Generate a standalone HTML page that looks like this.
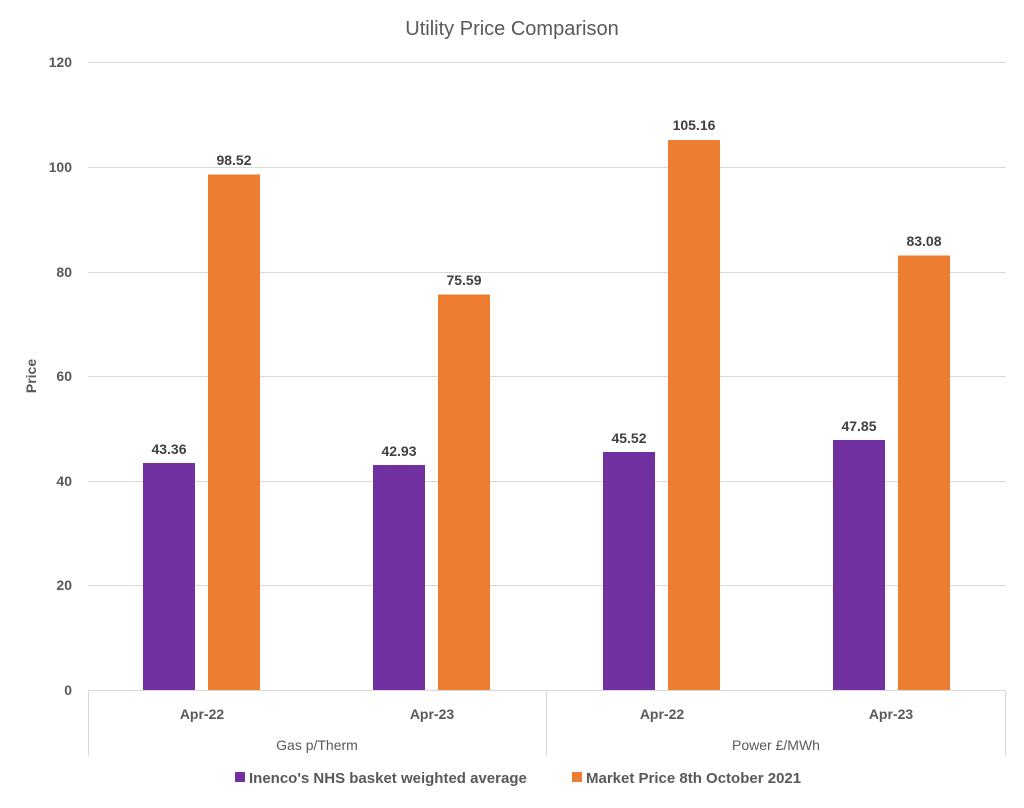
<!DOCTYPE html>
<html><head><meta charset="utf-8"><style>
body{margin:0;background:#fff;}
svg text{font-family:"Liberation Sans",Calibri,sans-serif;}
</style></head><body>
<svg width="1024" height="803" viewBox="0 0 1024 803" xmlns="http://www.w3.org/2000/svg">
<rect width="1024" height="803" fill="#fff"/>
<text x="512" y="35" text-anchor="middle" font-size="20" fill="#595959">Utility Price Comparison</text>
<g stroke="#d9d9d9" stroke-width="1">
<line x1="88" y1="62.5" x2="1006" y2="62.5"/>
<line x1="88" y1="167.5" x2="1006" y2="167.5"/>
<line x1="88" y1="272.5" x2="1006" y2="272.5"/>
<line x1="88" y1="376.5" x2="1006" y2="376.5"/>
<line x1="88" y1="481.5" x2="1006" y2="481.5"/>
<line x1="88" y1="585.5" x2="1006" y2="585.5"/>
<line x1="88" y1="690.5" x2="1006" y2="690.5"/>
<line x1="88.5" y1="690" x2="88.5" y2="756"/>
<line x1="546.5" y1="690" x2="546.5" y2="756"/>
<line x1="1005.5" y1="690" x2="1005.5" y2="756"/>
</g>
<g font-size="14" font-weight="bold" fill="#595959" text-anchor="end">
<text x="72" y="67">120</text><text x="72" y="172">100</text><text x="72" y="277">80</text>
<text x="72" y="381">60</text><text x="72" y="486">40</text><text x="72" y="590">20</text><text x="72" y="695">0</text>
</g>
<text transform="translate(36,376) rotate(-90)" text-anchor="middle" font-size="14" font-weight="bold" fill="#595959">Price</text>
<g fill="#7030a0">
<rect x="143" y="463" width="52" height="227"/>
<rect x="373" y="465" width="52" height="225"/>
<rect x="603" y="452" width="52" height="238"/>
<rect x="833" y="440" width="52" height="250"/>
</g>
<g fill="#ed7d31">
<rect x="208" y="174.5" width="52" height="515.5"/>
<rect x="438" y="294.5" width="52" height="395.5"/>
<rect x="668" y="140" width="52" height="550"/>
<rect x="898" y="255.5" width="52" height="434.5"/>
</g>
<g font-size="14" font-weight="bold" fill="#404040" text-anchor="middle">
<text x="169" y="454">43.36</text><text x="234" y="165">98.52</text>
<text x="399" y="456">42.93</text><text x="464" y="285">75.59</text>
<text x="629" y="443">45.52</text><text x="694" y="130">105.16</text>
<text x="859" y="431">47.85</text><text x="924" y="246">83.08</text>
</g>
<g font-size="14" font-weight="bold" fill="#595959" text-anchor="middle">
<text x="202" y="719">Apr-22</text><text x="432" y="719">Apr-23</text>
<text x="662" y="719">Apr-22</text><text x="891" y="719">Apr-23</text>
</g>
<g font-size="14" fill="#595959" text-anchor="middle">
<text x="317" y="750">Gas p/Therm</text><text x="776" y="750">Power £/MWh</text>
</g>
<rect x="235" y="772" width="10" height="10" fill="#7030a0"/>
<text x="249" y="783" font-size="15" font-weight="bold" fill="#595959">Inenco's NHS basket weighted average</text>
<rect x="572" y="772" width="10" height="10" fill="#ed7d31"/>
<text x="586" y="783" font-size="15" font-weight="bold" fill="#595959">Market Price 8th October 2021</text>
</svg>
</body></html>
